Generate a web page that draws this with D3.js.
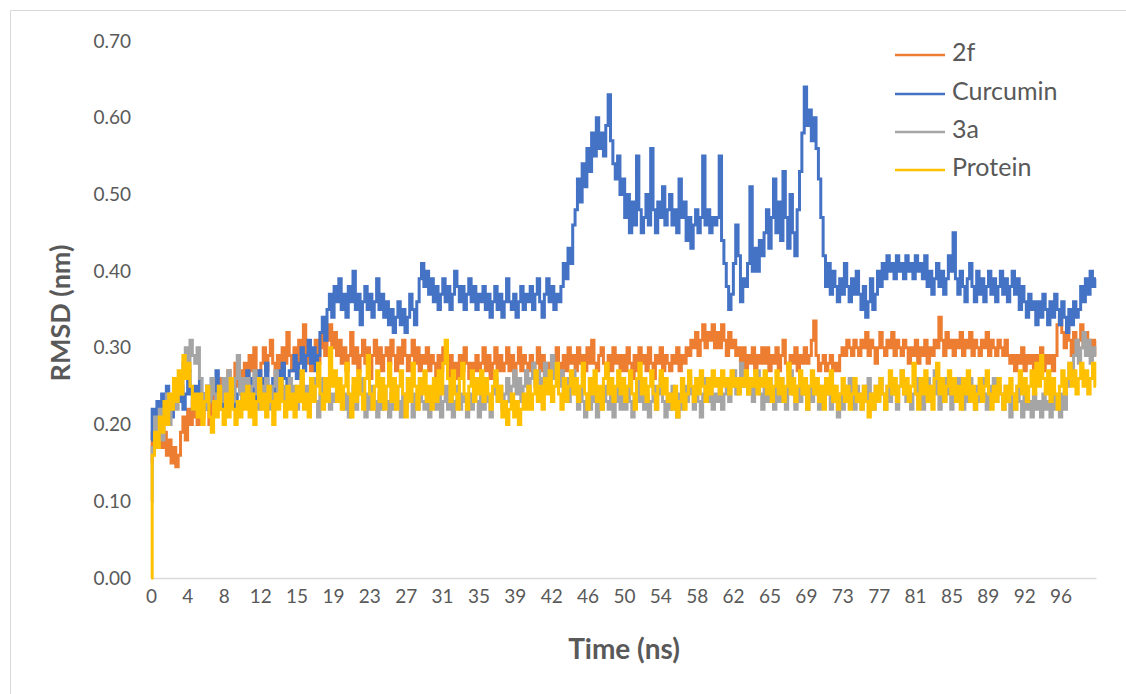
<!DOCTYPE html>
<html>
<head>
<meta charset="utf-8">
<script src="https://cdn.jsdelivr.net/npm/d3@7"></script>
<style>
  body { margin: 0; background: #fff; }
  svg text { font-family: Lato, "Open Sans", sans-serif; fill: #595959; }
</style>
</head>
<body>
<svg id="chart" width="1126" height="694"></svg>
<script>
// RMSD trajectories over a 100 ns simulation, sampled every 0.25 ns
const seriesNames = ["2f", "Curcumin", "3a", "Protein"];
const seriesColors = ["#ED7D31", "#4472C4", "#A5A5A5", "#FFC000"];
const timeStep = 0.25;

const xTickLabels = ["0","4","8","12","15","19","23","27","31","35","39","42","46","50",
                     "54","58","62","65","69","73","77","81","85","89","92","96"];
const xTickSpacing = 3.85;
const yTicks = [0, 0.1, 0.2, 0.3, 0.4, 0.5, 0.6, 0.7];

const rmsd2f = [
  0.15,0.19,0.21,0.18,0.20,0.17,0.19,0.16,0.18,0.15,0.17,0.145,0.16,0.19,0.21,0.18,0.22,0.20,0.23,0.21,
  0.20,0.23,0.21,0.24,0.22,0.20,0.23,0.25,0.22,0.24,0.26,0.23,0.25,0.27,0.24,0.26,0.28,0.25,0.27,0.26,
  0.28,0.26,0.29,0.27,0.30,0.27,0.25,0.28,0.30,0.27,0.29,0.31,0.28,0.26,0.29,0.27,0.30,0.28,0.32,0.29,
  0.27,0.30,0.28,0.31,0.29,0.33,0.28,0.30,0.27,0.29,0.31,0.28,0.30,0.32,0.29,0.31,0.33,0.30,0.32,0.29,
  0.31,0.28,0.30,0.27,0.29,0.32,0.28,0.30,0.27,0.29,0.31,0.28,0.30,0.26,0.29,0.31,0.28,0.30,0.27,0.29,
  0.30,0.28,0.31,0.29,0.27,0.30,0.28,0.31,0.29,0.27,0.29,0.31,0.28,0.30,0.27,0.29,0.28,0.30,0.27,0.29,
  0.28,0.26,0.29,0.27,0.30,0.28,0.26,0.29,0.27,0.28,0.26,0.29,0.27,0.30,0.28,0.26,0.28,0.27,0.29,0.27,
  0.28,0.30,0.27,0.29,0.26,0.28,0.30,0.27,0.29,0.27,0.28,0.30,0.27,0.29,0.26,0.28,0.30,0.27,0.29,0.28,
  0.27,0.29,0.26,0.28,0.30,0.27,0.29,0.26,0.28,0.27,0.29,0.27,0.30,0.28,0.26,0.29,0.27,0.30,0.28,0.29,
  0.27,0.30,0.28,0.29,0.27,0.30,0.28,0.31,0.28,0.27,0.29,0.30,0.28,0.26,0.29,0.27,0.30,0.28,0.29,0.27,
  0.29,0.27,0.30,0.28,0.26,0.29,0.27,0.30,0.28,0.29,0.27,0.30,0.28,0.26,0.29,0.28,0.30,0.27,0.29,0.28,
  0.27,0.29,0.28,0.30,0.27,0.29,0.28,0.30,0.29,0.31,0.30,0.32,0.29,0.31,0.33,0.30,0.32,0.31,0.33,0.30,
  0.32,0.30,0.33,0.31,0.29,0.32,0.30,0.31,0.29,0.30,0.28,0.30,0.27,0.29,0.28,0.30,0.27,0.29,0.28,0.30,
  0.28,0.30,0.27,0.29,0.28,0.30,0.27,0.29,0.31,0.28,0.27,0.29,0.28,0.30,0.27,0.29,0.28,0.30,0.28,0.29,
  0.31,0.335,0.29,0.27,0.28,0.29,0.27,0.28,0.29,0.27,0.28,0.27,0.29,0.30,0.29,0.31,0.30,0.29,0.31,0.30,
  0.29,0.31,0.30,0.32,0.29,0.31,0.30,0.28,0.30,0.32,0.30,0.29,0.31,0.30,0.32,0.29,0.31,0.30,0.29,0.31,
  0.30,0.28,0.30,0.29,0.31,0.28,0.30,0.29,0.31,0.28,0.30,0.29,0.31,0.30,0.34,0.31,0.29,0.32,0.30,0.31,
  0.29,0.31,0.30,0.32,0.29,0.31,0.30,0.32,0.29,0.31,0.30,0.29,0.31,0.30,0.32,0.29,0.31,0.30,0.29,0.31,
  0.30,0.29,0.31,0.29,0.28,0.29,0.27,0.29,0.28,0.30,0.27,0.29,0.28,0.29,0.27,0.29,0.28,0.30,0.27,0.29,
  0.28,0.29,0.27,0.29,0.33,0.34,0.32,0.30,0.33,0.31,0.29,0.32,0.30,0.31,0.33,0.30,0.32,0.30,0.31,0.29,0.31
];

const rmsdCurcumin = [
  0.18,0.22,0.20,0.23,0.21,0.24,0.22,0.25,0.23,0.21,0.24,0.26,0.23,0.25,0.22,0.24,0.27,0.24,0.22,0.25,
  0.23,0.26,0.24,0.22,0.25,0.23,0.26,0.24,0.27,0.24,0.22,0.25,0.23,0.26,0.24,0.25,0.22,0.24,0.26,0.23,
  0.25,0.27,0.24,0.26,0.23,0.25,0.27,0.24,0.26,0.28,0.25,0.23,0.26,0.24,0.27,0.25,0.28,0.26,0.24,0.27,
  0.27,0.29,0.26,0.28,0.30,0.27,0.29,0.31,0.28,0.30,0.27,0.29,0.32,0.34,0.31,0.35,0.37,0.34,0.38,0.36,
  0.39,0.35,0.37,0.34,0.38,0.36,0.40,0.35,0.37,0.33,0.36,0.38,0.35,0.37,0.34,0.36,0.39,0.35,0.37,0.34,
  0.36,0.33,0.35,0.32,0.34,0.36,0.33,0.35,0.32,0.34,0.37,0.35,0.33,0.36,0.39,0.41,0.38,0.40,0.37,0.39,
  0.36,0.38,0.35,0.37,0.39,0.36,0.38,0.35,0.37,0.40,0.38,0.36,0.38,0.35,0.37,0.39,0.36,0.38,0.35,0.37,
  0.36,0.38,0.35,0.37,0.34,0.36,0.38,0.35,0.37,0.34,0.36,0.39,0.36,0.35,0.37,0.34,0.36,0.38,0.35,0.37,
  0.36,0.38,0.35,0.37,0.39,0.36,0.34,0.37,0.39,0.36,0.38,0.35,0.37,0.36,0.38,0.41,0.39,0.43,0.41,0.46,
  0.48,0.52,0.49,0.54,0.51,0.56,0.53,0.58,0.55,0.60,0.56,0.58,0.55,0.59,0.63,0.57,0.54,0.52,0.55,0.50,
  0.52,0.47,0.50,0.45,0.49,0.46,0.55,0.48,0.45,0.47,0.50,0.46,0.56,0.48,0.45,0.49,0.47,0.51,0.46,0.48,
  0.50,0.46,0.48,0.45,0.52,0.47,0.49,0.44,0.47,0.43,0.46,0.48,0.45,0.47,0.55,0.46,0.48,0.45,0.47,0.46,
  0.47,0.55,0.44,0.41,0.38,0.35,0.37,0.41,0.46,0.42,0.36,0.39,0.38,0.41,0.51,0.40,0.43,0.40,0.44,0.42,
  0.45,0.48,0.43,0.47,0.52,0.45,0.49,0.44,0.53,0.47,0.43,0.50,0.45,0.42,0.48,0.53,0.58,0.64,0.59,0.61,
  0.57,0.60,0.56,0.52,0.47,0.42,0.38,0.41,0.37,0.40,0.38,0.36,0.39,0.37,0.41,0.38,0.36,0.39,0.37,0.40,
  0.37,0.35,0.38,0.34,0.36,0.39,0.35,0.37,0.40,0.38,0.41,0.39,0.42,0.40,0.41,0.39,0.42,0.40,0.41,0.39,
  0.42,0.40,0.41,0.39,0.42,0.40,0.41,0.39,0.42,0.38,0.40,0.37,0.39,0.41,0.38,0.40,0.37,0.39,0.42,0.40,
  0.45,0.39,0.37,0.40,0.38,0.36,0.39,0.41,0.38,0.36,0.40,0.37,0.39,0.36,0.38,0.40,0.37,0.39,0.36,0.38,
  0.40,0.37,0.39,0.36,0.38,0.40,0.37,0.39,0.35,0.38,0.36,0.34,0.37,0.35,0.36,0.33,0.36,0.34,0.37,0.35,
  0.33,0.36,0.34,0.37,0.35,0.33,0.36,0.34,0.32,0.35,0.33,0.36,0.34,0.35,0.38,0.36,0.39,0.37,0.40,0.38,0.39
];

const rmsd3a = [
  0.10,0.17,0.21,0.19,0.22,0.18,0.21,0.24,0.20,0.23,0.25,0.22,0.26,0.24,0.28,0.30,0.27,0.31,0.29,0.28,
  0.30,0.26,0.24,0.22,0.25,0.23,0.26,0.24,0.22,0.25,0.23,0.26,0.24,0.27,0.25,0.23,0.26,0.29,0.24,0.26,
  0.24,0.26,0.23,0.25,0.27,0.24,0.22,0.25,0.23,0.26,0.24,0.22,0.25,0.27,0.24,0.23,0.25,0.22,0.24,0.26,
  0.23,0.25,0.22,0.24,0.26,0.23,0.25,0.22,0.24,0.26,0.23,0.21,0.24,0.26,0.23,0.25,0.22,0.24,0.23,0.25,
  0.23,0.25,0.22,0.24,0.21,0.23,0.25,0.22,0.24,0.26,0.23,0.21,0.24,0.22,0.25,0.23,0.21,0.24,0.22,0.25,
  0.23,0.21,0.24,0.22,0.25,0.23,0.21,0.24,0.22,0.26,0.23,0.21,0.24,0.22,0.25,0.23,0.22,0.24,0.21,0.23,
  0.25,0.22,0.24,0.21,0.23,0.25,0.22,0.24,0.21,0.23,0.25,0.22,0.24,0.23,0.21,0.24,0.22,0.25,0.23,0.21,
  0.24,0.22,0.25,0.23,0.21,0.24,0.26,0.23,0.25,0.22,0.24,0.26,0.23,0.25,0.27,0.24,0.26,0.23,0.25,0.27,
  0.24,0.26,0.28,0.25,0.27,0.24,0.26,0.28,0.25,0.27,0.29,0.26,0.28,0.25,0.27,0.24,0.26,0.23,0.25,0.27,
  0.24,0.22,0.25,0.23,0.21,0.24,0.22,0.25,0.23,0.21,0.24,0.22,0.25,0.23,0.22,0.24,0.21,0.23,0.25,0.22,
  0.24,0.22,0.25,0.23,0.21,0.24,0.26,0.23,0.25,0.22,0.24,0.21,0.23,0.25,0.22,0.24,0.26,0.23,0.21,0.24,
  0.22,0.25,0.23,0.21,0.24,0.22,0.25,0.23,0.26,0.24,0.22,0.25,0.23,0.21,0.24,0.26,0.23,0.25,0.22,0.24,
  0.23,0.25,0.22,0.24,0.26,0.23,0.25,0.27,0.24,0.26,0.28,0.25,0.27,0.24,0.26,0.23,0.25,0.27,0.24,0.22,
  0.25,0.23,0.26,0.24,0.22,0.25,0.23,0.26,0.24,0.22,0.25,0.27,0.24,0.22,0.25,0.23,0.26,0.24,0.22,0.25,
  0.23,0.26,0.24,0.22,0.25,0.23,0.26,0.24,0.22,0.25,0.23,0.21,0.24,0.22,0.25,0.23,0.26,0.24,0.22,0.25,
  0.24,0.22,0.25,0.23,0.26,0.24,0.22,0.25,0.23,0.26,0.24,0.22,0.25,0.23,0.26,0.24,0.22,0.25,0.27,0.24,
  0.23,0.25,0.22,0.24,0.26,0.23,0.25,0.22,0.24,0.26,0.23,0.25,0.27,0.24,0.22,0.25,0.23,0.26,0.24,0.22,
  0.25,0.23,0.26,0.24,0.22,0.25,0.23,0.26,0.24,0.22,0.25,0.23,0.26,0.24,0.22,0.25,0.24,0.26,0.23,0.25,
  0.24,0.22,0.25,0.23,0.21,0.24,0.22,0.25,0.23,0.21,0.24,0.22,0.23,0.21,0.24,0.22,0.23,0.21,0.24,0.22,
  0.23,0.21,0.24,0.22,0.23,0.21,0.24,0.22,0.25,0.28,0.26,0.29,0.31,0.28,0.30,0.32,0.29,0.31,0.28,0.30,0.29
];

const rmsdProtein = [
  0.00,0.16,0.19,0.17,0.21,0.19,0.23,0.20,0.24,0.22,0.26,0.23,0.27,0.24,0.29,0.26,0.28,0.25,0.22,0.24,
  0.21,0.24,0.20,0.23,0.25,0.21,0.19,0.23,0.21,0.25,0.22,0.20,0.24,0.21,0.26,0.22,0.20,0.23,0.21,0.24,
  0.22,0.25,0.21,0.24,0.20,0.23,0.26,0.22,0.24,0.21,0.25,0.23,0.20,0.24,0.22,0.26,0.23,0.21,0.25,0.22,
  0.24,0.21,0.25,0.23,0.27,0.22,0.24,0.21,0.26,0.23,0.25,0.28,0.24,0.22,0.26,0.23,0.30,0.25,0.27,0.23,
  0.26,0.22,0.25,0.28,0.24,0.21,0.26,0.23,0.27,0.24,0.22,0.26,0.29,0.24,0.22,0.25,0.27,0.23,0.26,0.22,
  0.25,0.28,0.23,0.26,0.22,0.25,0.27,0.24,0.21,0.26,0.23,0.28,0.25,0.22,0.26,0.24,0.27,0.23,0.25,0.22,
  0.26,0.23,0.27,0.24,0.28,0.31,0.26,0.23,0.27,0.24,0.22,0.26,0.28,0.24,0.22,0.25,0.27,0.23,0.26,0.24,
  0.27,0.23,0.26,0.24,0.22,0.25,0.27,0.23,0.25,0.21,0.23,0.20,0.22,0.24,0.21,0.23,0.20,0.22,0.24,0.22,
  0.25,0.22,0.24,0.27,0.23,0.25,0.22,0.26,0.24,0.27,0.23,0.25,0.28,0.24,0.22,0.26,0.23,0.25,0.27,0.24,
  0.26,0.23,0.25,0.28,0.24,0.22,0.26,0.24,0.27,0.23,0.25,0.22,0.26,0.28,0.24,0.26,0.23,0.25,0.27,0.24,
  0.26,0.23,0.25,0.27,0.24,0.22,0.26,0.28,0.24,0.26,0.23,0.25,0.27,0.24,0.22,0.25,0.27,0.24,0.26,0.23,
  0.24,0.22,0.25,0.21,0.23,0.26,0.22,0.24,0.27,0.25,0.23,0.26,0.24,0.27,0.25,0.23,0.26,0.24,0.27,0.25,
  0.26,0.24,0.27,0.25,0.26,0.24,0.27,0.25,0.26,0.24,0.26,0.25,0.27,0.24,0.26,0.25,0.27,0.24,0.26,0.25,
  0.27,0.24,0.26,0.23,0.25,0.27,0.24,0.26,0.23,0.25,0.28,0.24,0.26,0.23,0.25,0.27,0.24,0.26,0.22,0.25,
  0.27,0.24,0.26,0.23,0.25,0.22,0.26,0.24,0.27,0.23,0.25,0.22,0.24,0.26,0.23,0.25,0.22,0.24,0.26,0.23,
  0.24,0.22,0.25,0.23,0.21,0.24,0.22,0.25,0.23,0.26,0.24,0.22,0.25,0.27,0.24,0.26,0.23,0.25,0.27,0.24,
  0.26,0.23,0.25,0.28,0.24,0.22,0.26,0.24,0.27,0.23,0.25,0.22,0.26,0.28,0.24,0.26,0.23,0.25,0.27,0.24,
  0.26,0.23,0.25,0.22,0.26,0.24,0.27,0.23,0.25,0.22,0.24,0.26,0.23,0.25,0.27,0.24,0.22,0.25,0.23,0.26,
  0.24,0.22,0.25,0.23,0.26,0.24,0.22,0.25,0.27,0.24,0.26,0.23,0.25,0.27,0.24,0.28,0.25,0.29,0.26,0.24,
  0.27,0.23,0.26,0.24,0.22,0.25,0.27,0.24,0.26,0.28,0.25,0.27,0.24,0.26,0.28,0.25,0.27,0.24,0.26,0.28,0.25
];

const seriesValues = [rmsd2f, rmsdCurcumin, rmsd3a, rmsdProtein];

const svg = d3.select("#chart");

// outer chart frame
svg.append("path")
  .attr("d", "M10.5,694 V10.5 H1126")
  .attr("fill", "none")
  .attr("stroke", "#d9d9d9")
  .attr("stroke-width", 1);

const x = d3.scaleLinear().domain([0, 100]).range([151, 1096]);
const y = d3.scaleLinear().domain([0, 0.7]).range([578, 41]);

// y axis: labels only
const yAxis = svg.append("g")
  .attr("transform", "translate(151,0)")
  .call(d3.axisLeft(y).tickValues(yTicks).tickFormat(d3.format(".2f")).tickSize(0).tickPadding(20));
yAxis.select(".domain").remove();
yAxis.selectAll("text").attr("font-size", 19).style("font-family", "Lato, 'Open Sans', sans-serif").attr("fill", "#595959");

// x axis: category-style labels every 3.85 ns
const xTickValues = xTickLabels.map((_, i) => i * xTickSpacing);
const xAxis = svg.append("g")
  .attr("transform", "translate(0,578)")
  .call(d3.axisBottom(x).tickValues(xTickValues).tickFormat((d, i) => xTickLabels[i]).tickSize(0).tickSizeOuter(0).tickPadding(12));
xAxis.select(".domain").attr("stroke", "#d9d9d9").attr("stroke-width", 1.5);
xAxis.selectAll("text").attr("font-size", 19).style("font-family", "Lato, 'Open Sans', sans-serif").attr("fill", "#595959");

// series lines
const line = d3.line()
  .x((d, i) => x(i * timeStep))
  .y(d => y(d))
  .curve(d3.curveStep);

svg.append("g").selectAll("path")
  .data(seriesValues)
  .join("path")
  .attr("d", line)
  .attr("fill", "none")
  .attr("stroke", (d, i) => seriesColors[i])
  .attr("stroke-width", 3)
  .attr("stroke-linejoin", "miter");

// axis titles
svg.append("text")
  .attr("x", 624).attr("y", 652)
  .attr("text-anchor", "middle")
  .attr("dominant-baseline", "middle")
  .attr("font-size", 28).attr("font-weight", "bold")
  .text("Time (ns)");

svg.append("text")
  .attr("transform", "translate(63,313) rotate(-90)")
  .attr("text-anchor", "middle")
  .attr("dominant-baseline", "middle")
  .attr("font-size", 27).attr("font-weight", "bold")
  .text("RMSD (nm)");

// legend
const legendRows = [55, 94, 132, 170];
const legend = svg.append("g");
seriesNames.forEach((name, i) => {
  legend.append("line")
    .attr("x1", 895).attr("x2", 945)
    .attr("y1", legendRows[i]).attr("y2", legendRows[i])
    .attr("stroke", seriesColors[i]).attr("stroke-width", 2.5);
  legend.append("text")
    .attr("x", 952).attr("y", legendRows[i])
    .attr("dominant-baseline", "middle")
    .attr("font-size", 25)
    .text(name);
});
</script>
</body>
</html>
